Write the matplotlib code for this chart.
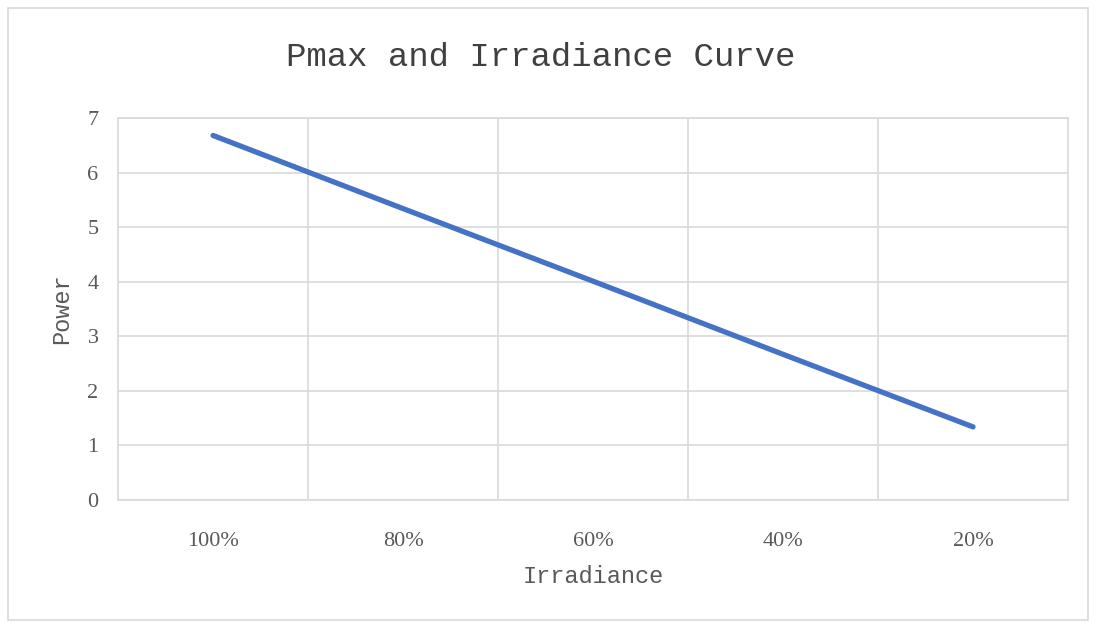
import matplotlib.pyplot as plt
from matplotlib.patches import Rectangle

# Data
irradiance = ["100%", "80%", "60%", "40%", "20%"]
power = [6.68, 5.34, 4.01, 2.67, 1.34]

fig = plt.figure(figsize=(10.97, 6.23), dpi=100)
ax = fig.add_axes([0.1076, 0.1974, 0.8660, 0.6132])

x = range(len(irradiance))
ax.plot(x, power, color="#4472C4", linewidth=3.8, solid_capstyle="round")

ax.set_xlim(-0.5, len(irradiance) - 0.5)
ax.set_ylim(0, 7)
ax.set_yticks(range(0, 8))
ax.set_xticks(list(x))
ax.set_xticklabels(irradiance)

# gridlines between categories, like Excel
ax.set_xticks([i + 0.5 for i in range(len(irradiance) - 1)], minor=True)
ax.grid(True, which="minor", axis="x", color="#d9d9d9", linewidth=1.2)
ax.grid(True, which="major", axis="y", color="#d9d9d9", linewidth=1.2)
ax.set_axisbelow(True)
ax.tick_params(which="both", length=0)
ax.tick_params(axis="x", pad=23)
ax.tick_params(axis="y", pad=14)

for side in ["left", "right", "top", "bottom"]:
    ax.spines[side].set_color("#d9d9d9")
    ax.spines[side].set_linewidth(1.2)

for lab in ax.get_xticklabels() + ax.get_yticklabels():
    lab.set_family("Liberation Serif")
    lab.set_fontsize(16)
    lab.set_color("#595959")

ax.set_xlabel("Irradiance", family="Liberation Mono", fontsize=17, color="#595959", labelpad=10)
ax.set_ylabel("Power", family="Liberation Mono", fontsize=17, color="#595959", labelpad=10)

fig.text(0.493, 0.9085, "Pmax and Irradiance Curve", family="Liberation Mono",
         fontsize=24.5, color="#404040", ha="center", va="center")

# light frame around the chart area
fig.patches.append(Rectangle((0.007, 0.005), 0.985, 0.982, transform=fig.transFigure,
                             fill=False, edgecolor="#d9d9d9", linewidth=1.2))

fig.savefig("out.png", dpi=100)
